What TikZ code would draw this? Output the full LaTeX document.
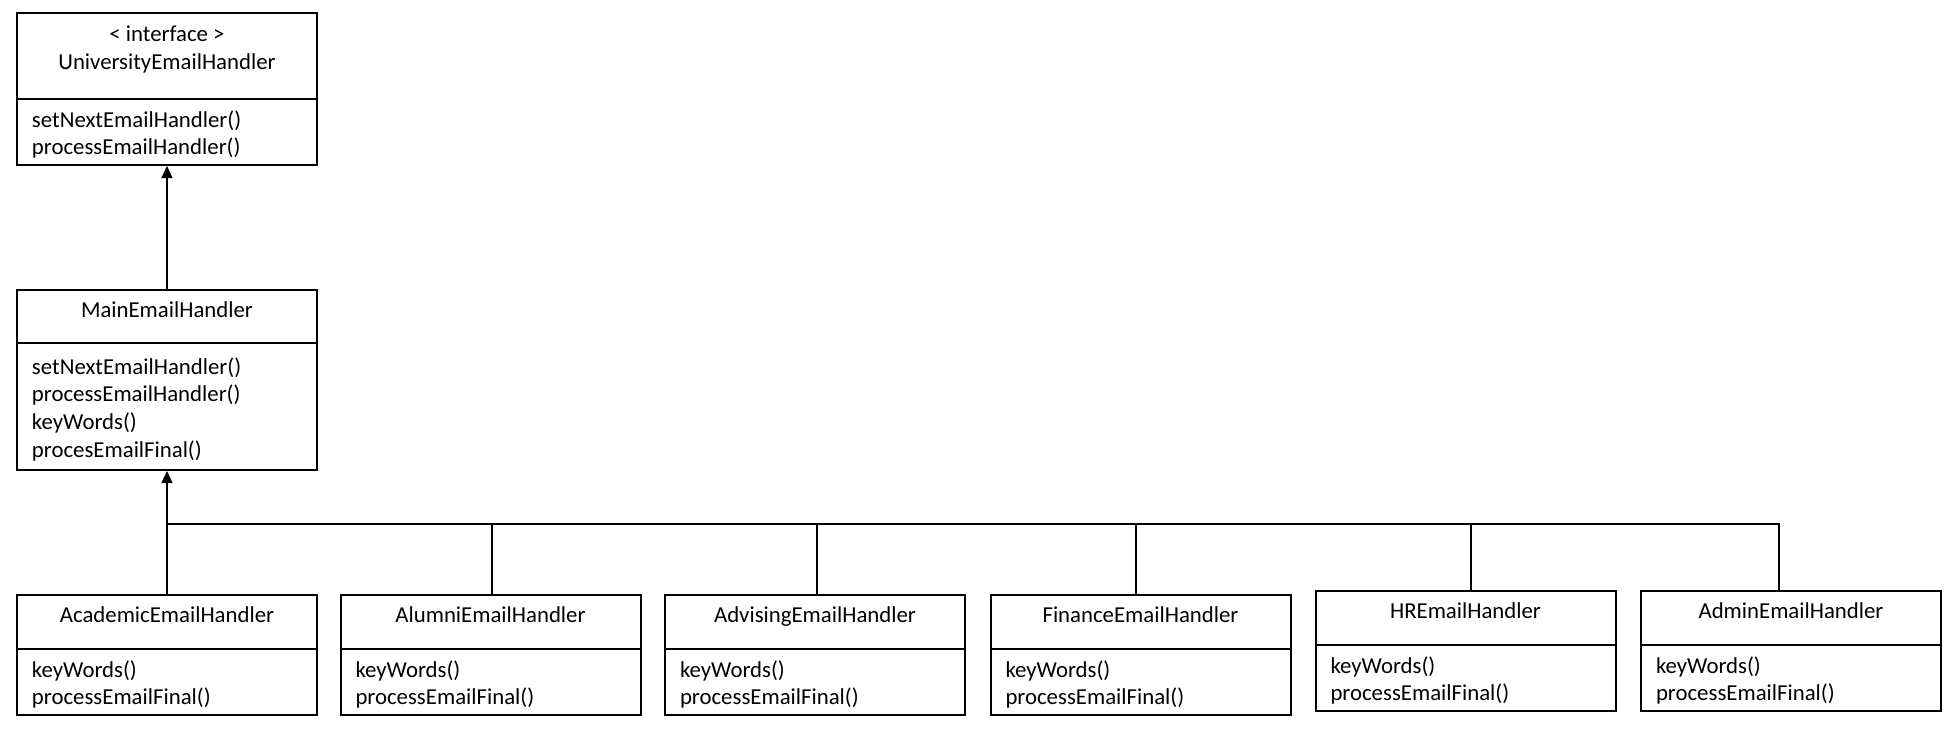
\documentclass[tikz,border=0pt]{standalone}
\usepackage{fontspec}
\setmainfont{Carlito}
\usetikzlibrary{positioning,arrows.meta}
\definecolor{c000000}{RGB}{0,0,0}
\def \globalscale {1.000000}

\begin{document}
\begin{tikzpicture}[y=-0.5pt, x=0.5pt, yscale=\globalscale, xscale=\globalscale, inner sep=0pt, outer sep=0pt,
  every node/.append style={font=\fontsize{11.4}{13.8}\selectfont},
  titlebox/.style={draw=c000000, line width=1pt, minimum width=150pt, align=center, text height=7.3pt, text depth=6.5pt},
  opsbox/.style={draw=c000000, line width=1pt, minimum width=150pt, text width=135pt, align=left, text height=11pt},
  link/.style={draw=c000000, line width=0.55pt},
  isa/.style={link, -{Triangle[length=6pt, width=5.5pt]}, shorten >=0.5pt}]

  \useasboundingbox (0.0, 0.0) rectangle (1958.0, 728.0);



  \node[titlebox, text height=18.4pt, text depth=5.3pt, minimum height=43pt, anchor=north] (uni) at (167.0, 13.0){< interface >\\UniversityEmailHandler};

  \node[opsbox, minimum height=33pt, below=0pt of uni] (uniops){setNextEmailHandler()\\processEmailHandler()};



  \node[titlebox, minimum height=26.5pt, anchor=north] (main) at (167.0, 290.0){MainEmailHandler};

  \node[opsbox, minimum height=63.5pt, below=0pt of main] (mainops){setNextEmailHandler()\\processEmailHandler()\\keyWords()\\procesEmailFinal()};



  \node[titlebox, minimum height=27pt, anchor=north] (academic) at (167.0, 595.0){AcademicEmailHandler};

  \node[opsbox, minimum height=33pt, below=0pt of academic] (academicops){keyWords()\\processEmailFinal()};



  \node[titlebox, minimum height=27pt, anchor=north] (alumni) at (490.5, 595.0){AlumniEmailHandler};

  \node[opsbox, minimum height=33pt, below=0pt of alumni] (alumniops){keyWords()\\processEmailFinal()};



  \node[titlebox, minimum height=27pt, anchor=north] (advising) at (815.0, 595.0){AdvisingEmailHandler};

  \node[opsbox, minimum height=33pt, below=0pt of advising] (advisingops){keyWords()\\processEmailFinal()};



  \node[titlebox, minimum height=27pt, anchor=north] (finance) at (1140.5, 595.0){FinanceEmailHandler};

  \node[opsbox, minimum height=33pt, below=0pt of finance] (financeops){keyWords()\\processEmailFinal()};



  \node[titlebox, minimum height=27pt, anchor=north] (hr) at (1465.5, 591.0){HREmailHandler};

  \node[opsbox, minimum height=33pt, below=0pt of hr] (hrops){keyWords()\\processEmailFinal()};



  \node[titlebox, minimum height=27pt, anchor=north] (admin) at (1791.0, 591.0){AdminEmailHandler};

  \node[opsbox, minimum height=33pt, below=0pt of admin] (adminops){keyWords()\\processEmailFinal()};



  \draw[isa] (main.north) -- (uniops.south);

  \draw[isa] (academic.north) -- (mainops.south);



  \coordinate (bus) at (167.0, 524.0);

  \draw[link] (bus) -| ([xshift=-6pt]admin.north);

  \draw[link] ([xshift=0.75pt]alumni.north) -- ([xshift=0.75pt]alumni.north |- bus);

  \draw[link] ([xshift=1pt]advising.north) -- ([xshift=1pt]advising.north |- bus);

  \draw[link] ([xshift=-2.25pt]finance.north) -- ([xshift=-2.25pt]finance.north |- bus);

  \draw[link] ([xshift=2.75pt]hr.north) -- ([xshift=2.75pt]hr.north |- bus);



\end{tikzpicture}
\end{document}
